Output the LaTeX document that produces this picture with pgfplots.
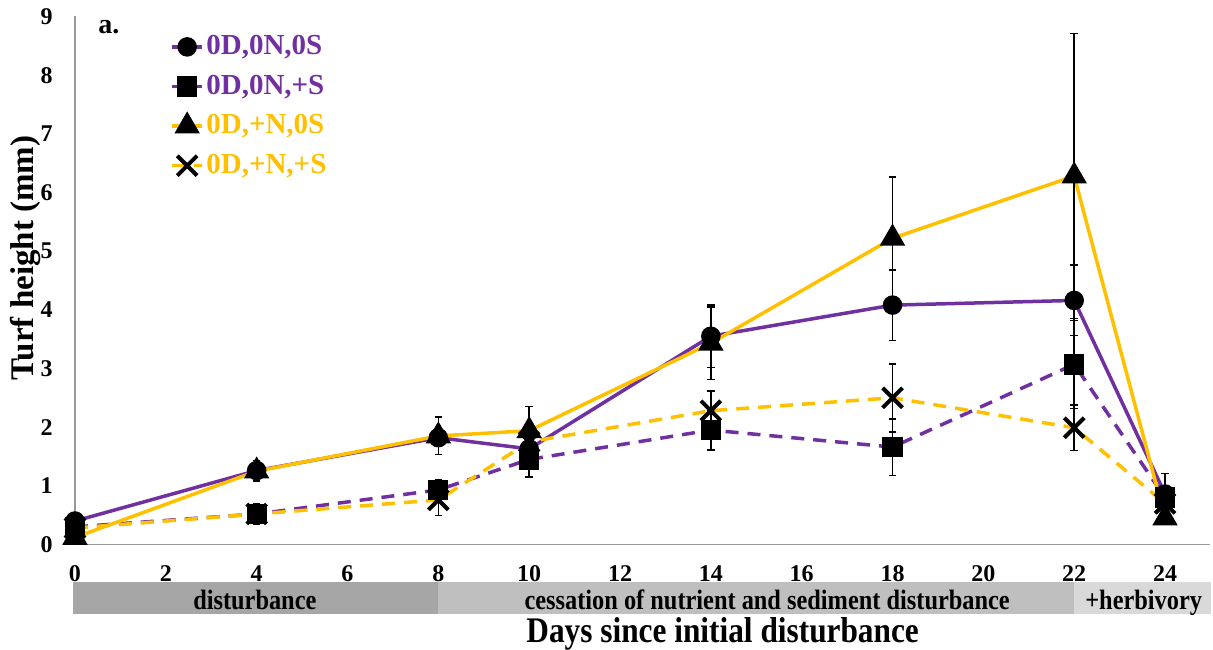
\documentclass[border=0pt]{standalone}
\usepackage{fontspec}
\setmainfont{Liberation Serif}
\newfontfamily\condfont{Liberation Serif}[FakeStretch=0.87]
\usepackage{pgfplots}
\pgfplotsset{compat=1.18}
\definecolor{exPurple}{HTML}{7030A0}
\definecolor{exGold}{HTML}{FFC000}
\definecolor{barA}{HTML}{A6A6A6}
\definecolor{barB}{HTML}{BFBFBF}
\definecolor{barC}{HTML}{D9D9D9}
\pgfplotsset{
  ebars/.style={error bars/.cd, y dir=both, y explicit,
    error bar style={black, solid, line width=0.75pt},
    error mark options={black, solid, rotate=90, mark size=1.9pt, line width=0.75pt}},
}
\begin{document}
\begin{tikzpicture}
\begin{axis}[
  scale only axis,
  width=567.7pt, height=264pt,
  xmin=0, xmax=25, ymin=0, ymax=9,
  xtick={0,2,...,24}, ytick={0,...,9},
  axis lines=left,
  axis line style={-, draw=black!40, line width=0.6pt},
  major tick length=0pt,
  clip=false,
  /pgf/number format/assume math mode=true,
  tick label style={font=\fontsize{12}{14}\selectfont\bfseries, inner sep=0pt},
  xticklabel style={anchor=north, yshift=-10.5pt},
  yticklabel style={anchor=east, xshift=-11pt},
  xlabel={Days since initial disturbance},
  xlabel style={at={(axis description cs:0.5704,-0.1865)}, anchor=base, inner sep=0pt,
    font=\condfont\fontsize{18}{20}\selectfont\bfseries},
  ylabel={Turf height (mm)},
  ylabel style={at={(axis description cs:-0.03611,0.5426)}, anchor=base, inner sep=0pt,
    font=\fontsize{16.5}{20}\selectfont\bfseries},
  legend style={at={(axis description cs:0.0837,0.9687)}, anchor=north west,
    draw=none, fill=none, inner sep=0pt, row sep=6.3pt,
    font=\fontsize{14.5}{17}\selectfont\bfseries,
    nodes={inner xsep=1.2pt, inner ysep=0pt, text height=10.5pt, text depth=3pt}},
  legend cell align=left,
  legend image code/.code={\draw[mark repeat=2,mark phase=2,#1] plot coordinates {(0pt,0pt) (7.5pt,0pt) (15pt,0pt)};},
]
% treatment period bands under the axis
\fill[barA] (axis cs:-0.044,-0.639) rectangle (axis cs:8,-1.185);
\fill[barB] (axis cs:8,-0.639) rectangle (axis cs:22,-1.185);
\fill[barC] (axis cs:22,-0.639) rectangle (axis cs:25.02,-1.185);
\node[anchor=base, inner sep=0pt, font=\condfont\fontsize{14}{16}\selectfont\bfseries] at (axis cs:3.96,-1.116) {disturbance};
\node[anchor=base, inner sep=0pt, font=\condfont\fontsize{14}{16}\selectfont\bfseries] at (axis cs:15.24,-1.116) {cessation of nutrient and sediment disturbance};
\node[anchor=base, inner sep=0pt, font=\condfont\fontsize{14}{16}\selectfont\bfseries] at (axis cs:23.53,-1.116) {+herbivory};
\node[anchor=base west, inner sep=0pt, font=\fontsize{14}{16}\selectfont\bfseries] at (axis cs:0.506,8.718) {a.};

\addplot[exPurple, line width=1.75pt, mark=*, mark size=4pt,
  mark options={black, fill=black, solid}, ebars] coordinates {
  (0,0.40) +- (0,0.08) (4,1.26) +- (0,0.17) (8,1.82) +- (0,0.15) (10,1.63) +- (0,0.25)
  (14,3.55) +- (0,0.53) (18,4.08) +- (0,0.60) (22,4.16) +- (0,0.60) (24,0.86) +- (0,0.35)};
\addlegendentry{\textcolor{exPurple}{0D,0N,0S}}
\addplot[exPurple, line width=1.75pt, dash pattern=on 6.5pt off 4.5pt, mark=square*, mark size=4.2pt,
  mark options={black, fill=black, solid}, ebars] coordinates {
  (0,0.30) +- (0,0.07) (4,0.52) +- (0,0.17) (8,0.93) +- (0,0.17) (10,1.45) +- (0,0.30)
  (14,1.95) +- (0,0.34) (18,1.66) +- (0,0.48) (22,3.07) +- (0,0.75) (24,0.80) +- (0,0.20)};
\addlegendentry{\textcolor{exPurple}{0D,0N,+S}}
\addplot[exGold, line width=1.75pt, mark=triangle*, mark size=5.6pt,
  mark options={black, fill=black, solid}, ebars] coordinates {
  (0,0.12) +- (0,0.05) (4,1.25) +- (0,0.18) (8,1.85) +- (0,0.32) (10,1.94) +- (0,0.41)
  (14,3.43) +- (0,0.62) (18,5.22) +- (0,1.04) (22,6.28) +- (0,2.43) (24,0.45) +- (0,0.10)};
\addlegendentry{\textcolor{exGold}{0D,+N,0S}}
\addplot[exGold, line width=1.75pt, dash pattern=on 6.5pt off 4.5pt, mark=x, mark size=7pt,
  mark options={black, solid, line width=2pt}, ebars] coordinates {
  (0,0.28) +- (0,0.08) (4,0.52) +- (0,0.17) (8,0.76) +- (0,0.27) (10,1.75) +- (0,0.22)
  (14,2.28) +- (0,0.34) (18,2.50) +- (0,0.58) (22,1.99) +- (0,0.39) (24,0.70) +- (0,0.20)};
\addlegendentry{\textcolor{exGold}{0D,+N,+S}}

\coordinate (bbsw) at (axis cs:-1.651,-1.798);
\coordinate (bbne) at (axis cs:25.056,9.281);
\end{axis}
\pgfresetboundingbox
\path[use as bounding box] (bbsw) rectangle (bbne);
\end{tikzpicture}
\end{document}
